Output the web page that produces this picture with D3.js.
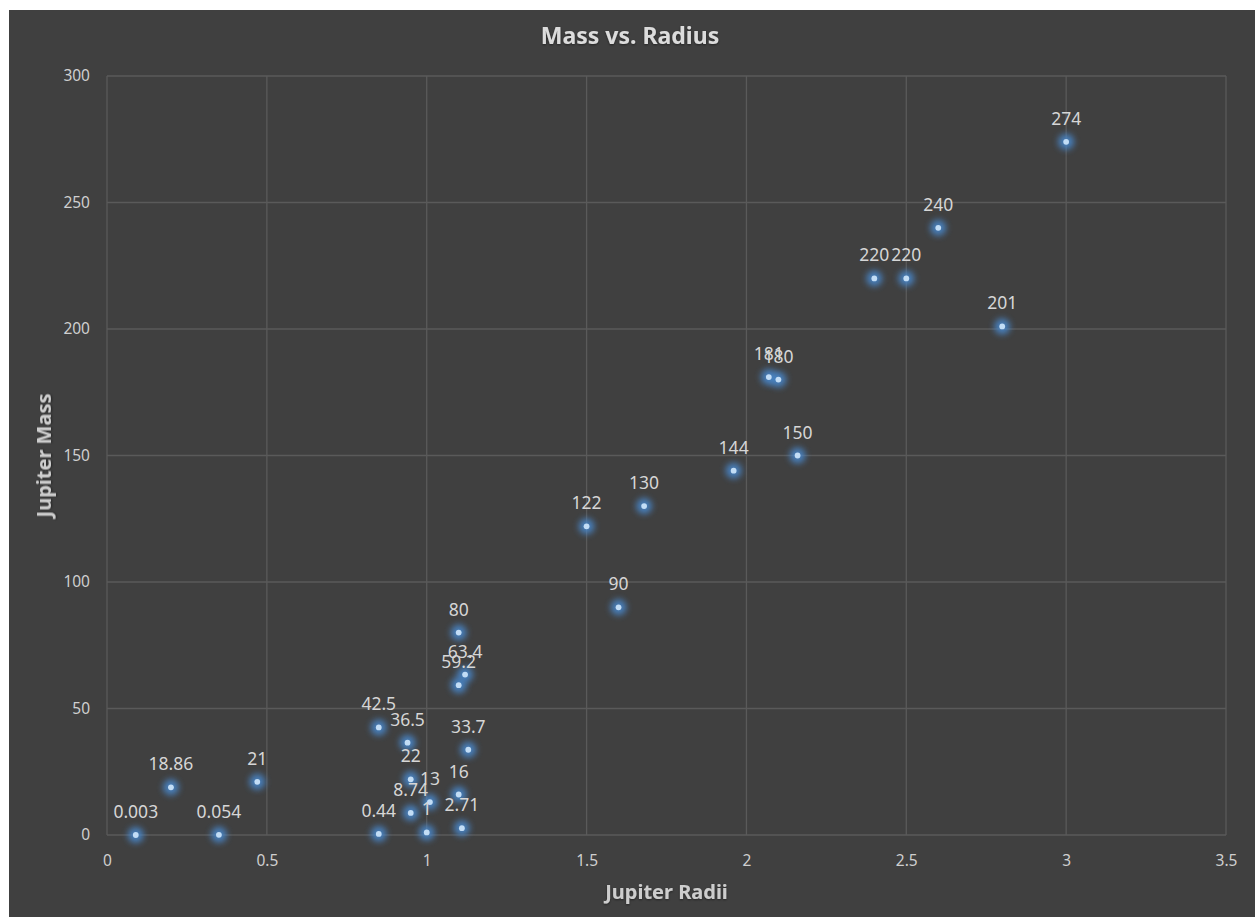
<!DOCTYPE html>
<html>
<head>
<meta charset="utf-8">
<script src="https://cdn.jsdelivr.net/npm/d3@7"></script>
<style>
  html, body { margin: 0; padding: 0; background: #ffffff; }
  svg { display: block; }
</style>
</head>
<body>
<svg id="chart" width="1255" height="917"></svg>
<script>
// Planet/brown-dwarf sample: radius (Jupiter radii) vs. mass (Jupiter masses)
const radii  = [0.09, 0.20, 0.35, 0.47, 0.85, 0.85, 0.94, 0.95, 0.95, 1.00, 1.01, 1.10, 1.11, 1.13, 1.10, 1.12, 1.10,
                1.50, 1.60, 1.68, 1.96, 2.07, 2.10, 2.16, 2.40, 2.50, 2.60, 2.80, 3.00];
const masses = [0.003, 18.86, 0.054, 21, 0.44, 42.5, 36.5, 22, 8.74, 1, 13, 16, 2.71, 33.7, 59.2, 63.4, 80,
                122, 90, 130, 144, 181, 180, 150, 220, 220, 240, 201, 274];
const xTicks = [0, 0.5, 1, 1.5, 2, 2.5, 3, 3.5];
const yTicks = [0, 50, 100, 150, 200, 250, 300];

const W = 1255, H = 917;
const frame = { x: 9, y: 10 };
const plot = { left: 107, right: 1226, top: 76, bottom: 835 };
const font = "'Noto Sans', 'Open Sans', sans-serif";

const svg = d3.select("#chart");

// Glow used behind each marker
const defs = svg.append("defs");
const glow = defs.append("filter").attr("id", "glow")
  .attr("x", "-100%").attr("y", "-100%").attr("width", "300%").attr("height", "300%");
glow.append("feGaussianBlur").attr("stdDeviation", 3);
const shadow = defs.append("filter").attr("id", "txtshadow")
  .attr("x", "-10%").attr("y", "-30%").attr("width", "120%").attr("height", "160%");
shadow.append("feDropShadow").attr("dx", 0).attr("dy", 1).attr("stdDeviation", 1.2)
  .attr("flood-color", "#000").attr("flood-opacity", 0.45);

// Chart background
svg.append("rect").attr("x", frame.x).attr("y", frame.y)
  .attr("width", W - frame.x).attr("height", H - frame.y).attr("fill", "#404040");

const x = d3.scaleLinear().domain([0, 3.5]).range([plot.left, plot.right]);
const y = d3.scaleLinear().domain([0, 300]).range([plot.bottom, plot.top]);

// Gridlines
const grid = svg.append("g");
grid.selectAll("line.h").data(yTicks).join("line")
  .attr("x1", plot.left).attr("x2", plot.right)
  .attr("y1", d => y(d)).attr("y2", d => y(d))
  .attr("stroke", "#5a5a5a").attr("stroke-width", 1.3);
grid.selectAll("line.v").data(xTicks).join("line")
  .attr("y1", plot.top).attr("y2", plot.bottom)
  .attr("x1", d => x(d)).attr("x2", d => x(d))
  .attr("stroke", "#5a5a5a").attr("stroke-width", 1.3);

// Axes (labels only; lines come from the grid)
const xAxis = svg.append("g").attr("transform", `translate(0,${plot.bottom})`)
  .call(d3.axisBottom(x).tickValues(xTicks).tickSize(0).tickPadding(20).tickFormat(d3.format("")));
const yAxis = svg.append("g").attr("transform", `translate(${plot.left},0)`)
  .call(d3.axisLeft(y).tickValues(yTicks).tickSize(0).tickPadding(17).tickFormat(d3.format("")));
[xAxis, yAxis].forEach(a => {
  a.select(".domain").remove();
  a.selectAll("text").attr("fill", "#cfcfcf").style("font-family", font).style("font-size", "15.5px");
});

// Markers
const pts = radii.map((r, i) => ({ r, m: masses[i] }));
const marks = svg.append("g");
marks.selectAll("circle.glow").data(pts).join("circle")
  .attr("cx", d => x(d.r)).attr("cy", d => y(d.m)).attr("r", 8)
  .attr("fill", "#4a8ad0").attr("opacity", 0.85).attr("filter", "url(#glow)");
marks.selectAll("circle.dot").data(pts).join("circle")
  .attr("cx", d => x(d.r)).attr("cy", d => y(d.m)).attr("r", 2.9)
  .attr("fill", "#c2ddf6");

// Data labels
svg.append("g").selectAll("text").data(pts).join("text")
  .attr("x", d => x(d.r)).attr("y", d => y(d.m) - 17)
  .attr("text-anchor", "middle")
  .attr("fill", "#d6d6d6")
  .style("font-family", font).style("font-size", "17.5px")
  .text(d => String(d.m));

// Title
svg.append("text").attr("x", 630).attr("y", 44).attr("text-anchor", "middle")
  .attr("fill", "#dcdcdc").attr("filter", "url(#txtshadow)")
  .style("font-family", font).style("font-size", "23px").style("font-weight", "bold")
  .text("Mass vs. Radius");

// Axis titles
svg.append("text").attr("x", (plot.left + plot.right) / 2).attr("y", 899).attr("text-anchor", "middle")
  .attr("fill", "#cdcdcd").attr("filter", "url(#txtshadow)")
  .style("font-family", font).style("font-size", "20px").style("font-weight", "bold")
  .text("Jupiter Radii");
svg.append("text").attr("transform", `translate(51,${(plot.top + plot.bottom) / 2}) rotate(-90)`)
  .attr("text-anchor", "middle")
  .attr("fill", "#cdcdcd").attr("filter", "url(#txtshadow)")
  .style("font-family", font).style("font-size", "20px").style("font-weight", "bold")
  .text("Jupiter Mass");
</script>
</body>
</html>
